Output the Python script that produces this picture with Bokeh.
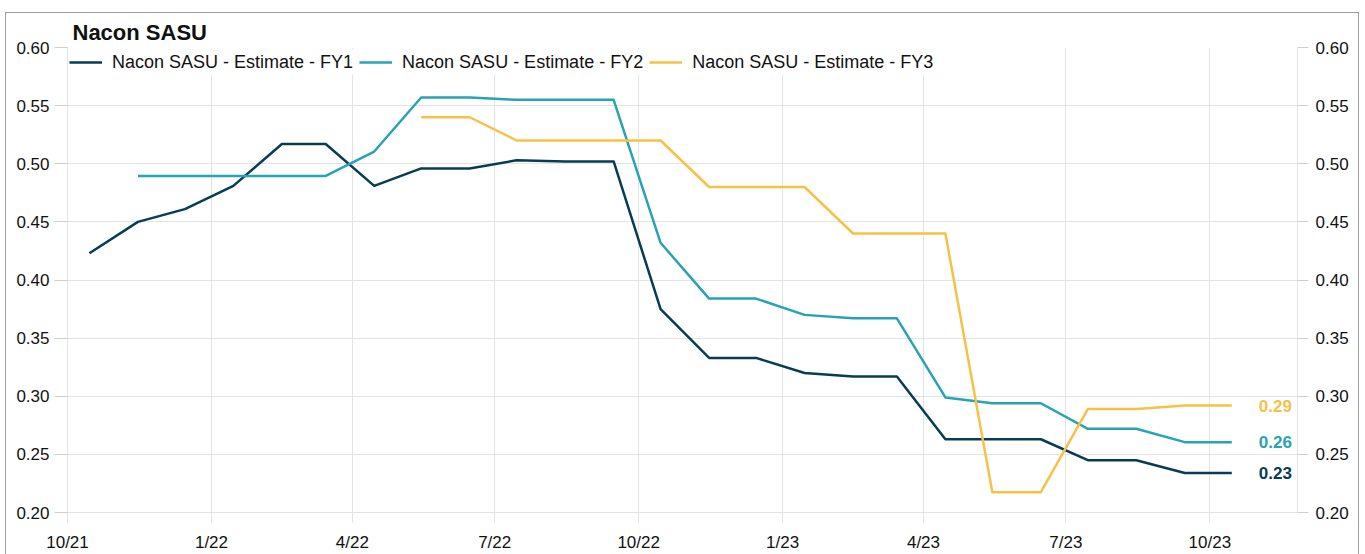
from datetime import datetime
import pandas as pd
from bokeh.plotting import figure
from bokeh.models import (Range1d, LinearAxis, FixedTicker, Legend, LegendItem, ColumnDataSource,
                          NumeralTickFormatter, InlineStyleSheet)
from bokeh.embed import file_html
from bokeh.resources import INLINE
from bokeh.core.properties import value

# ---------------- data ----------------
months = ["2021-10-15", "2021-11-15", "2021-12-15", "2022-01-15", "2022-02-15", "2022-03-15",
          "2022-04-15", "2022-05-15", "2022-06-15", "2022-07-15", "2022-08-15", "2022-09-15",
          "2022-10-15", "2022-11-15", "2022-12-15", "2023-01-15", "2023-02-15", "2023-03-15",
          "2023-04-15", "2023-05-15", "2023-06-15", "2023-07-15", "2023-08-15", "2023-09-15",
          "2023-10-15"]

fy1 = [0.423, 0.450, 0.461, 0.481, 0.517, 0.517, 0.481, 0.496, 0.496, 0.503, 0.502, 0.502,
       0.375, 0.333, 0.333, 0.320, 0.317, 0.317, 0.263, 0.263, 0.263, 0.245, 0.245, 0.234, 0.234]
fy2_months = months[1:]
fy2 = [0.4895, 0.4895, 0.4895, 0.4895, 0.4895, 0.5105, 0.557, 0.557, 0.555, 0.555, 0.555,
       0.432, 0.384, 0.384, 0.370, 0.367, 0.367, 0.299, 0.294, 0.294, 0.272, 0.272, 0.2605, 0.2605]
fy3_months = months[7:]
fy3 = [0.540, 0.540, 0.520, 0.520, 0.520, 0.520, 0.480, 0.480, 0.480, 0.440, 0.440, 0.440,
       0.2175, 0.2175, 0.289, 0.289, 0.292, 0.292]

series_names = ["Nacon SASU - Estimate - FY1", "Nacon SASU - Estimate - FY2", "Nacon SASU - Estimate - FY3"]
colors = ["#083c55", "#27a3b4", "#f6c246"]

tick_dates = ["2021-10-01", "2022-01-01", "2022-04-01", "2022-07-01", "2022-10-01",
              "2023-01-01", "2023-04-01", "2023-07-01", "2023-10-01"]
tick_labels = ["10/21", "1/22", "4/22", "7/22", "10/22", "1/23", "4/23", "7/23", "10/23"]
y_ticks = [0.20, 0.25, 0.30, 0.35, 0.40, 0.45, 0.50, 0.55, 0.60]

title_text = "Nacon SASU"

# ---------------- figure ----------------
FONT = "Liberation Sans"
GRID = "#e3e3e3"


def ms(d):
    return (pd.Timestamp(d) - pd.Timestamp("1970-01-01")).total_seconds() * 1000.0


card = InlineStyleSheet(css="""
:host { position: relative; }
:host::after {
  content: "";
  position: absolute;
  left: 5px; top: 12px; right: 6px; bottom: 0px;
  border-top: 1px solid #a0a0a0;
  border-left: 1px solid #a0a0a0;
  border-right: 1px solid #a0a0a0;
  pointer-events: none;
  z-index: 10;
}
""")

p = figure(width=1365, height=554, x_axis_type="datetime", output_backend="svg",
           toolbar_location=None,
           x_range=Range1d(ms("2021-10-01"), ms("2023-11-26")),
           y_range=Range1d(0.20, 0.60),
           min_border_left=67, min_border_right=68, min_border_top=47, min_border_bottom=40,
           stylesheets=[card])
p.outline_line_color = None
p.background_fill_color = "white"
p.border_fill_color = "white"

p.title.text = title_text
p.title.text_font = FONT
p.title.text_font_size = "22px"
p.title.text_font_style = "bold"
p.title.text_color = "#111111"
p.title.align = "left"
p.title.offset = 5
p.title.standoff = 6

# lines
renderers = []
for xs, ys, c in [(months, fy1, colors[0]), (fy2_months, fy2, colors[1]), (fy3_months, fy3, colors[2])]:
    src = ColumnDataSource(dict(x=[ms(d) for d in xs], y=ys))
    r = p.line("x", "y", source=src, line_color=c, line_width=2.5, line_join="round")
    renderers.append(r)

# end labels
last_x = [ms(months[-1]), ms(fy2_months[-1]), ms(fy3_months[-1])]
last_y = [fy1[-1], fy2[-1], fy3[-1]]
lab_src = ColumnDataSource(dict(x=last_x, y=last_y, t=[f"{v:.2f}" for v in last_y], c=colors))
p.text("x", "y", text="t", source=lab_src, text_color="c", x_offset=27,
       text_font=value(FONT), text_font_style="bold", text_font_size="17px",
       text_baseline="middle", text_align="left")

# axes
xticker = FixedTicker(ticks=[ms(d) for d in tick_dates])
xa = p.xaxis[0]
xa.ticker = xticker
xa.major_label_overrides = {ms(d): l for d, l in zip(tick_dates, tick_labels)}
xa.axis_line_color = GRID
xa.major_tick_line_color = GRID
xa.major_tick_out = 10
xa.major_tick_in = 0
xa.minor_tick_line_color = None
xa.major_label_standoff = 10
xa.major_label_text_font = FONT
xa.major_label_text_font_size = "17px"
xa.major_label_text_color = "#111111"

ya = p.yaxis[0]
ya.ticker = FixedTicker(ticks=y_ticks)
ya.formatter = NumeralTickFormatter(format="0.00")
ya.axis_line_color = GRID
ya.major_tick_line_color = "#cfcfcf"
ya.major_tick_out = 13
ya.major_tick_in = 0
ya.minor_tick_line_color = None
ya.major_label_standoff = 5
ya.major_label_text_font = FONT
ya.major_label_text_font_size = "17px"
ya.major_label_text_color = "#111111"

ra = LinearAxis(ticker=FixedTicker(ticks=y_ticks), formatter=NumeralTickFormatter(format="0.00"))
ra.axis_line_color = GRID
ra.major_tick_line_color = "#cfcfcf"
ra.major_tick_out = 11
ra.major_tick_in = 0
ra.minor_tick_line_color = None
ra.major_label_standoff = 7
ra.major_label_text_font = FONT
ra.major_label_text_font_size = "17px"
ra.major_label_text_color = "#111111"
p.add_layout(ra, "right")

p.xgrid.ticker = xticker
p.xgrid.grid_line_color = GRID
p.ygrid.ticker = FixedTicker(ticks=y_ticks)
p.ygrid.grid_line_color = GRID

legend = Legend(items=[LegendItem(label=n, renderers=[r]) for n, r in zip(series_names, renderers)],
                location="top_left", orientation="horizontal",
                margin=2, padding=2, spacing=6,
                glyph_width=33, glyph_height=26, label_standoff=10, label_height=26,
                label_text_font=FONT, label_text_font_size="18px", label_text_color="#111111",
                label_text_baseline="middle",
                background_fill_color="white", background_fill_alpha=1.0,
                border_line_color=None)
p.add_layout(legend)

open("out.html", "w").write(file_html(p, INLINE))
